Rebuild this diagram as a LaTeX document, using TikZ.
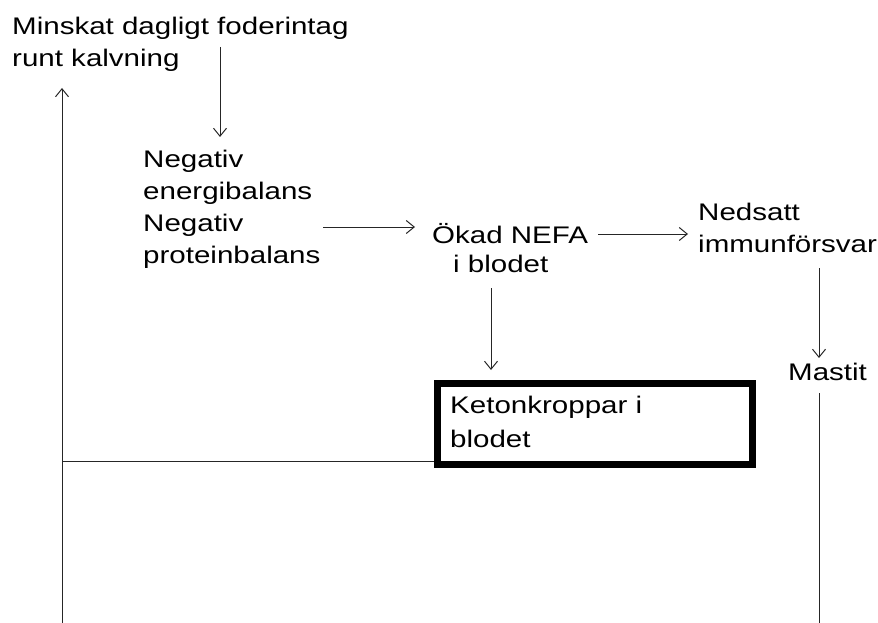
\documentclass[tikz,border=0pt]{standalone}
\usepackage{fontspec}
\setmainfont{Liberation Sans}[FakeStretch=1.23]
\usetikzlibrary{arrows.meta}
\begin{document}
\begin{tikzpicture}[x=1pt,y=-1pt,
  lbl/.style={inner sep=0pt, anchor=base west, align=left, font=\fontsize{24}{32}\selectfont},
  conn/.style={draw=black!85, line width=1pt},
  arr/.style={conn, -{Straight Barb[length=8pt,width=13pt,line width=1pt]}},
  ketbox/.style={draw=black, line width=7pt, minimum width=315pt, minimum height=81pt, inner sep=0pt, anchor=north west}]
\useasboundingbox (0,0) rectangle (878,623);
% texts (anchor = baseline of the last line)
\node[lbl] (minskat) at (12,67) {Minskat dagligt foderintag\\runt kalvning};
\node[lbl] (negativ) at (143,263) {Negativ\\energibalans\\Negativ\\proteinbalans};
\node[lbl] (nefa) at (432,272) {Ökad NEFA\\[-3.6pt]\hspace*{21pt}i blodet};
\node[lbl] (nedsatt) at (698,252) {Nedsatt\\immunförsvar};
\node[lbl] (mastit) at (788,380) {Mastit};
\node[ketbox] (keton) at (433.5,380) {};
\node[lbl] (ketontxt) at (450,447) {Ketonkroppar i\\[1.3pt]blodet};
% connector endpoints
\coordinate (loopbot) at (62,623);
\coordinate (looptop) at (62,88);
\coordinate (loopmid) at (62,461);
\coordinate (ketonL) at (434,461);
\coordinate (d1s) at (220,47);
\coordinate (d1e) at (220,137);
\coordinate (h1s) at (323,227);
\coordinate (h1e) at (415,227);
\coordinate (h2s) at (598,234);
\coordinate (h2e) at (688,234);
\coordinate (d2s) at (491,288);
\coordinate (d2e) at (491,370);
\coordinate (d3s) at (819,268);
\coordinate (d3e) at (819,358);
\coordinate (m1s) at (819,393);
\coordinate (m1e) at (819,623);
% connectors
\draw[arr] (loopbot) -- (looptop);
\draw[conn] (loopmid) -- (ketonL);
\draw[arr] (d1s) -- (d1e);
\draw[arr] (h1s) -- (h1e);
\draw[arr] (h2s) -- (h2e);
\draw[arr] (d2s) -- (d2e);
\draw[arr] (d3s) -- (d3e);
\draw[conn] (m1s) -- (m1e);
\end{tikzpicture}
\end{document}
